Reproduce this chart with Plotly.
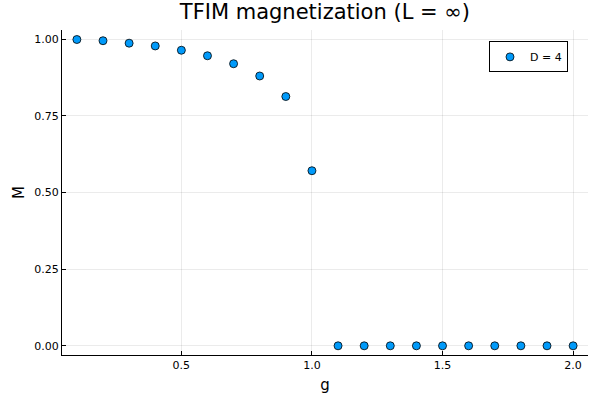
import plotly.graph_objects as go

g_values = [0.1, 0.2, 0.3, 0.4, 0.5, 0.6, 0.7, 0.8, 0.9, 1.0,
            1.1, 1.2, 1.3, 1.4, 1.5, 1.6, 1.7, 1.8, 1.9, 2.0]
magnetization = [0.999, 0.995, 0.987, 0.978, 0.964, 0.946, 0.920, 0.880, 0.813, 0.571,
                 0.0, 0.0, 0.0, 0.0, 0.0, 0.0, 0.0, 0.0, 0.0, 0.0]

x_ticks = [0.5, 1.0, 1.5, 2.0]
x_tick_labels = ['0.5', '1.0', '1.5', '2.0']
y_ticks = [0.0, 0.25, 0.5, 0.75, 1.0]
y_tick_labels = ['0.00', '0.25', '0.50', '0.75', '1.00']

fig = go.Figure()
fig.add_trace(go.Scatter(x=g_values, y=magnetization,
                         mode='markers',
                         name='D = 4',
                         marker=dict(color='#009AFA', size=8,
                                     line=dict(color='black', width=0.8))))

axis_style = dict(showline=True, linecolor='black', linewidth=1,
                  mirror=False, ticks='inside', ticklen=4, tickcolor='black',
                  showgrid=True, gridcolor='rgba(0,0,0,0.08)', gridwidth=0.5,
                  zeroline=False, tickfont=dict(size=11, color='black'),
                  title_font=dict(size=15, color='black'), automargin=False)

fig.update_layout(title=dict(text='TFIM magnetization (L = ∞)', x=0.5415, xanchor='center',
                             y=0.97, yanchor='middle',
                             font=dict(size=21, color='black')),
                  width=600, height=400,
                  margin=dict(l=62, r=12, t=30, b=45),
                  plot_bgcolor='white', paper_bgcolor='white',
                  font=dict(family='DejaVu Sans'),
                  showlegend=True,
                  legend=dict(x=0.962, y=0.965, xanchor='right', yanchor='top',
                              bordercolor='black', borderwidth=1, itemwidth=30,
                              font=dict(size=11, color='black'), bgcolor='white'))

fig.update_xaxes(range=[0.043, 2.057], tickvals=x_ticks, ticktext=x_tick_labels,
                 title=dict(text='g', standoff=8), **axis_style)
fig.update_yaxes(range=[-0.03, 1.03], tickvals=y_ticks, ticktext=y_tick_labels,
                 title=dict(text='M', standoff=6), **axis_style)

# page has a default 8px body margin, drop it so the figure sits at 0,0
fig.write_html('out.html', config={'displayModeBar': False},
               post_script="document.body.style.margin='0';")
